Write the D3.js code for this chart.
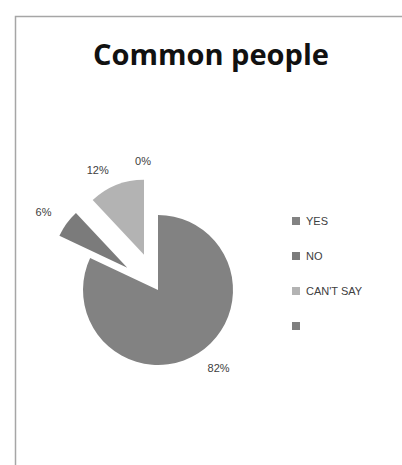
<!DOCTYPE html>
<html>
<head>
<meta charset="utf-8">
<script src="https://cdn.jsdelivr.net/npm/d3@7"></script>
<style>
  html, body { margin: 0; padding: 0; background: #fff; }
  svg { display: block; }
</style>
</head>
<body>
<svg id="chart" width="402" height="465"></svg>
<script>
// Survey answers for "Common people"
const title = "Common people";
const categories = ["YES", "NO", "CAN'T SAY", ""];
const values = [82, 6, 12, 0];
const valueLabels = ["82%", "6%", "12%", "0%"];
const colors = ["#828282", "#7b7b7b", "#b3b3b3", "#7f7f7f"];

const W = 402, H = 465;
const svg = d3.select("#chart");

// Chart area frame (top and left edges visible)
svg.append("path")
  .attr("d", `M15.5,${H} V16.5 H${W}`)
  .attr("fill", "none")
  .attr("stroke", "#a6a6a6")
  .attr("stroke-width", 1.5);

svg.append("text")
  .attr("x", 211)
  .attr("y", 65)
  .attr("text-anchor", "middle")
  .attr("font-family", "'Open Sans', sans-serif")
  .attr("font-weight", 700)
  .attr("font-size", 28)
  .attr("textLength", 236)
  .attr("lengthAdjust", "spacingAndGlyphs")
  .attr("fill", "#111")
  .text(title);

// Pie
const cx = 158, cy = 290, radius = 75;
const explodeDist = 38;
const exploded = new Set(["NO", "CAN'T SAY", ""]);

const pie = d3.pie().sort(null).value(d => d.value).startAngle(0).endAngle(2 * Math.PI);
const data = categories.map((c, i) => ({ name: c, value: values[i], label: valueLabels[i], color: colors[i] }));
const arcs = pie(data);
const arc = d3.arc().innerRadius(0).outerRadius(radius);

const g = svg.append("g").attr("transform", `translate(${cx},${cy})`);

function offsetOf(a) {
  if (!exploded.has(a.data.name)) return [0, 0];
  const m = (a.startAngle + a.endAngle) / 2;
  return [Math.sin(m) * explodeDist, -Math.cos(m) * explodeDist];
}

g.selectAll("path.slice")
  .data(arcs)
  .join("path")
  .attr("class", "slice")
  .attr("transform", a => `translate(${offsetOf(a)})`)
  .attr("d", arc)
  .attr("fill", a => a.data.color);

// Outside-end value labels: the text box corner nearest the pie sits just past the rim
const labelGap = 10, boxHalfW = 15, boxHalfH = 6;
g.selectAll("text.val")
  .data(arcs)
  .join("text")
  .attr("class", "val")
  .attr("x", a => {
    const m = (a.startAngle + a.endAngle) / 2;
    const s = Math.sin(m);
    return offsetOf(a)[0] + s * (radius + labelGap) + Math.sign(s) * boxHalfW;
  })
  .attr("y", a => {
    const m = (a.startAngle + a.endAngle) / 2;
    const c = -Math.cos(m);
    return offsetOf(a)[1] + c * (radius + labelGap) + Math.sign(c) * boxHalfH;
  })
  .attr("dy", "0.35em")
  .attr("text-anchor", "middle")
  .attr("font-family", "'Liberation Sans', sans-serif")
  .attr("font-size", 11)
  .attr("fill", "#404040")
  .text(a => a.data.label);

// Legend
const legend = svg.append("g").attr("transform", "translate(292,221)");
const rowStep = 35;
const li = legend.selectAll("g")
  .data(data)
  .join("g")
  .attr("transform", (d, i) => `translate(0,${i * rowStep})`);
li.append("rect")
  .attr("x", 0).attr("y", -4)
  .attr("width", 8).attr("height", 8)
  .attr("fill", d => d.color);
li.append("text")
  .attr("x", 14)
  .attr("y", 0)
  .attr("dy", "0.35em")
  .attr("font-family", "'Liberation Sans', sans-serif")
  .attr("font-size", 11)
  .attr("fill", "#404040")
  .text(d => d.name);
</script>
</body>
</html>
